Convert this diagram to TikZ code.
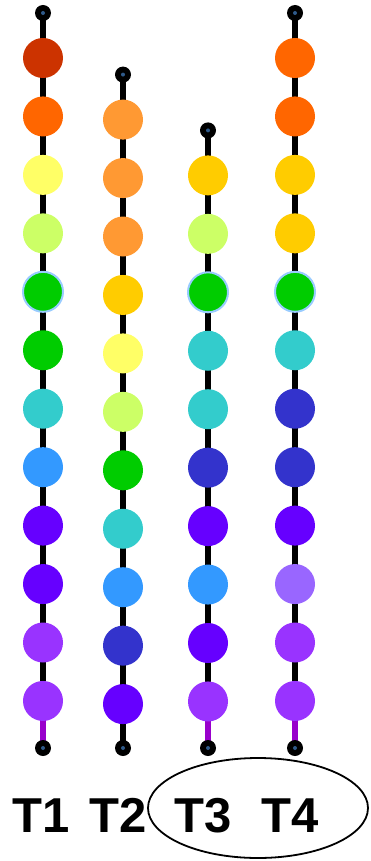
\documentclass[tikz,border=0pt]{standalone}
\usepackage{fontspec}
\setmainfont{Liberation Sans}
\usetikzlibrary{backgrounds}
\definecolor{ka}{HTML}{CC3300}
\definecolor{kb}{HTML}{FF6600}
\definecolor{kc}{HTML}{FFFF66}
\definecolor{kd}{HTML}{CCFF66}
\definecolor{ke}{HTML}{00CC00}
\definecolor{kf}{HTML}{33CCCC}
\definecolor{kg}{HTML}{3399FF}
\definecolor{kh}{HTML}{6600FF}
\definecolor{ki}{HTML}{9933FF}
\definecolor{kj}{HTML}{FF9933}
\definecolor{kk}{HTML}{FFCC00}
\definecolor{kl}{HTML}{3333CC}
\definecolor{km}{HTML}{9966FF}
\definecolor{ringc}{HTML}{99CCFF}
\definecolor{dotblue}{HTML}{2F5A8A}
\definecolor{tailc}{HTML}{9900CC}
\tikzset{
  bead/.style={circle,minimum size=40pt,inner sep=0pt},
  dotend/.style={circle,fill=black,minimum size=16pt,inner sep=0pt,
    path picture={\fill[dotblue] (path picture bounding box.center) circle (2pt);}},
  link/.style={line width=6pt},
  ringline/.style={draw=ringc,line width=2pt},
  lab/.style={font=\bfseries\fontsize{49}{49}\selectfont,inner sep=0pt,anchor=base}
}
% #1 name, #2 x, #3 first y, #4 colours, #5 count, #6 tail colour
\newcommand\beadcol[6]{%
  \foreach \c [count=\i] in {#4} {\node[bead,fill=\c] (#1-\i) at (#2,{#3+58.45*(\i-1)}) {};}
  \node[dotend] (#1-top) at (#2,{#3-45}) {};
  \node[dotend] (#1-bot) at (#2,748) {};
  \begin{scope}[on background layer]
    \draw[link] (#1-top.center) -- (#1-1.center);
    \foreach \i in {2,...,#5} {\pgfmathtruncatemacro\j{\i-1}\draw[link] (#1-\j.center) -- (#1-\i.center);}
    \draw[link,draw=#6] (#1-#5.center) -- (#1-bot.center);
  \end{scope}
}
\begin{document}
\begin{tikzpicture}[x=1pt,y=-1pt]
\useasboundingbox (0,0) rectangle (370,861);
\beadcol{a}{43}{58}{ka,kb,kc,kd,ke,ke,kf,kg,kh,kh,ki,ki}{12}{tailc}
\beadcol{b}{123}{119.6}{kj,kj,kj,kk,kc,kd,ke,kf,kg,kl,kh}{11}{black}
\beadcol{c}{208}{175.4}{kk,kd,ke,kf,kf,kl,kh,kg,kh,ki}{10}{tailc}
\beadcol{d}{295}{58}{kb,kb,kk,kk,ke,kf,kl,kl,kh,km,ki,ki}{12}{tailc}
\draw[ringline] (a-5.center) circle (20pt);
\draw[ringline] (c-3.center) circle (20pt);
\draw[ringline] (d-5.center) circle (20pt);
\node[lab] (l1) at (41,832) {T1};
\node[lab] (l2) at (118,832) {T2};
\node[lab] (l3) at (203,832) {T3};
\node[lab] (l4) at (290,832) {T4};
\draw[line width=1.8pt] (258,808) ellipse (110 and 50);
\end{tikzpicture}
\end{document}
